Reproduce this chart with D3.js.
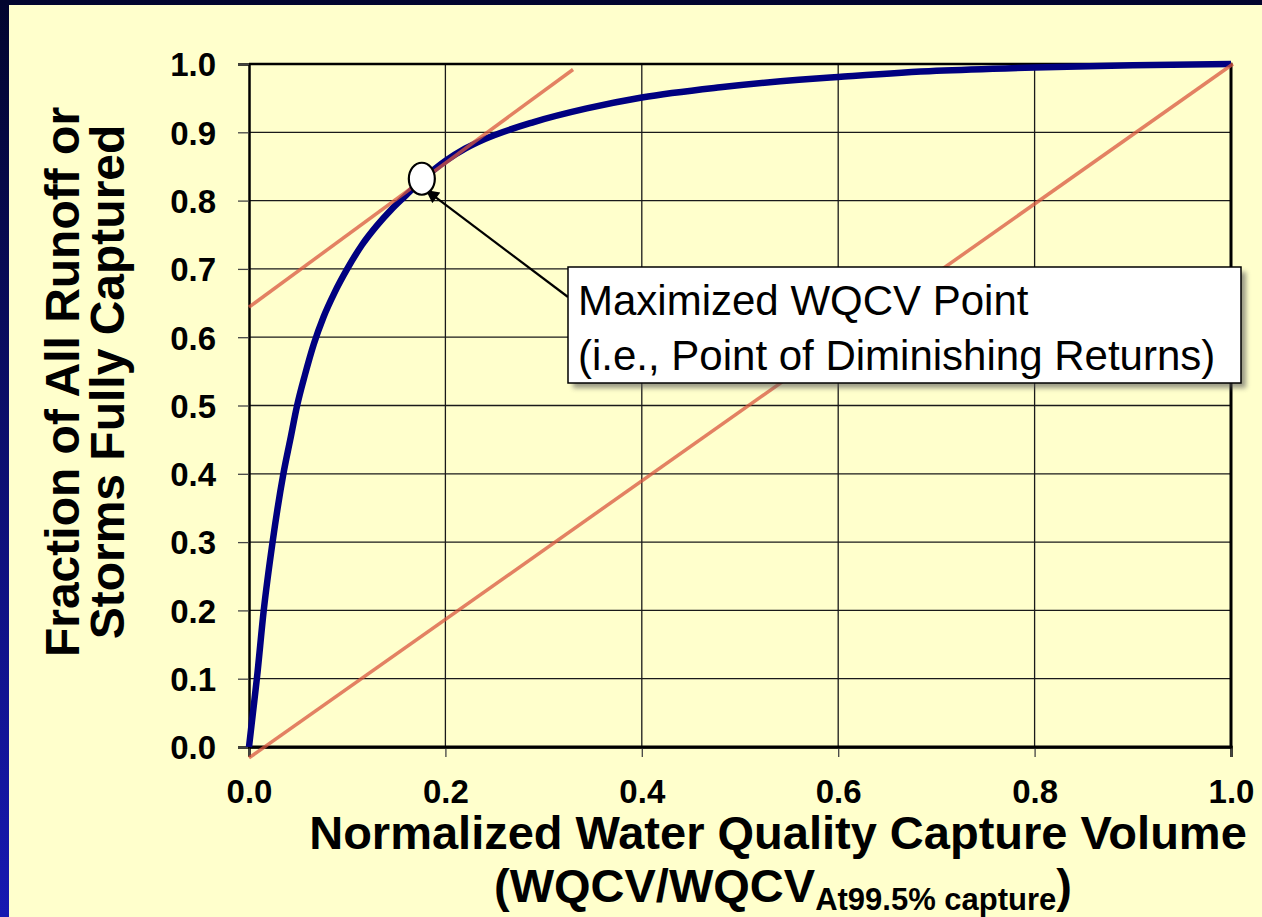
<!DOCTYPE html>
<html>
<head>
<meta charset="utf-8">
<script src="https://cdn.jsdelivr.net/npm/d3@7"></script>
<style>
  body { margin: 0; background: #03063a; }
  svg { display: block; }
  text { font-family: "Liberation Sans", Arial, sans-serif; }
</style>
</head>
<body>
<div id="chart"></div>
<script>
// curva di cattura
const captureX = [0, 0.004, 0.008, 0.015, 0.024, 0.035, 0.042, 0.049, 0.057, 0.066, 0.076, 0.087, 0.1, 0.115, 0.13, 0.145, 0.16, 0.176, 0.2, 0.22, 0.24, 0.29, 0.344, 0.4, 0.48, 0.56, 0.6, 0.7, 0.8, 0.9, 1.0];
const captureY = [0, 0.05, 0.10, 0.20, 0.30, 0.40, 0.45, 0.50, 0.545, 0.59, 0.63, 0.665, 0.70, 0.735, 0.763, 0.787, 0.808, 0.83, 0.858, 0.876, 0.890, 0.915, 0.935, 0.951, 0.966, 0.977, 0.981, 0.990, 0.995, 0.998, 1.0];

// retta tangente e diagonale
const tangentX = [0, 0.33];
const tangentY = [0.644, 0.992];
const diagonalX = [0, 1.002];
const diagonalY = [-0.016, 1.0];

// punto WQCV massimizzato
const pointX = 0.176;
const pointY = 0.832;

const yTicks = [0, 0.1, 0.2, 0.3, 0.4, 0.5, 0.6, 0.7, 0.8, 0.9, 1.0];
const xTicks = [0, 0.2, 0.4, 0.6, 0.8, 1.0];

const noteLines = ["Maximized WQCV Point", "(i.e., Point of Diminishing Returns)"];

const W = 1262, H = 917;
const plotL = 249, plotR = 1231, plotT = 64, plotB = 747;

const svg = d3.select("#chart").append("svg")
    .attr("width", W).attr("height", H);

const defs = svg.append("defs");
const grad = defs.append("linearGradient").attr("id", "slide")
    .attr("x1", 0).attr("y1", 0).attr("x2", 0).attr("y2", 1);
grad.append("stop").attr("offset", "0%").attr("stop-color", "#02052e");
grad.append("stop").attr("offset", "100%").attr("stop-color", "#1719b2");

const blur = defs.append("filter").attr("id", "shadow")
    .attr("x", "-10%").attr("y", "-10%").attr("width", "120%").attr("height", "140%");
blur.append("feGaussianBlur").attr("stdDeviation", 2.5);

defs.append("marker").attr("id", "head")
    .attr("viewBox", "0 0 10 10").attr("refX", 9).attr("refY", 5)
    .attr("markerWidth", 7).attr("markerHeight", 6).attr("markerUnits", "strokeWidth")
    .attr("orient", "auto")
    .append("path").attr("d", "M0,0 L10,5 L0,10 Z").attr("fill", "#000");

// sfondo slide + pannello giallo
svg.append("rect").attr("width", W).attr("height", H).attr("fill", "url(#slide)");
svg.append("rect").attr("x", 9).attr("y", 5).attr("width", W - 9).attr("height", H - 5).attr("fill", "#ffffcc");

const x = d3.scaleLinear().domain([0, 1]).range([plotL, plotR]);
const y = d3.scaleLinear().domain([0, 1]).range([plotB, plotT]);

// griglia
const grid = svg.append("g").attr("stroke", "#1a1a1a").attr("stroke-width", 1.3);
grid.selectAll("line.h").data(yTicks.slice(1, -1)).enter().append("line")
    .attr("x1", plotL).attr("x2", plotR)
    .attr("y1", d => y(d)).attr("y2", d => y(d));
grid.selectAll("line.v").data(xTicks.slice(1, -1)).enter().append("line")
    .attr("y1", plotT).attr("y2", plotB)
    .attr("x1", d => x(d)).attr("x2", d => x(d));

// assi
const yAxis = svg.append("g").attr("transform", `translate(${plotL},0)`)
    .call(d3.axisLeft(y).tickValues(yTicks).tickFormat(d3.format(".1f")).tickSize(11).tickPadding(22));
const xAxis = svg.append("g").attr("transform", `translate(0,${plotB})`)
    .call(d3.axisBottom(x).tickValues(xTicks).tickFormat(d3.format(".1f")).tickSize(10).tickPadding(8));

[yAxis, xAxis].forEach(a => {
    a.select(".domain").attr("stroke", "#000").attr("stroke-width", 2.5);
    a.selectAll(".tick line").attr("stroke", "#444").attr("stroke-width", 1.3);
    a.selectAll(".tick text").attr("fill", "#000")
        .style("font-size", "33px").style("font-weight", "bold")
        .style("font-family", "'Liberation Sans', Arial, sans-serif");
});
yAxis.selectAll(".tick text").attr("dy", "0.36em");
xAxis.selectAll(".tick text").attr("dy", null).attr("y", 56);

// bordi del riquadro
svg.append("line").attr("x1", plotL).attr("x2", plotR + 1.5).attr("y1", plotT).attr("y2", plotT)
    .attr("stroke", "#000").attr("stroke-width", 2.5);
svg.append("line").attr("x1", plotR).attr("x2", plotR).attr("y1", plotT).attr("y2", plotB)
    .attr("stroke", "#000").attr("stroke-width", 3);
svg.append("line").attr("x1", plotL - 1).attr("x2", plotR + 1.5).attr("y1", plotB).attr("y2", plotB)
    .attr("stroke", "#000").attr("stroke-width", 3);

// curva
const line = d3.line().x(d => x(d[0])).y(d => y(d[1])).curve(d3.curveMonotoneX);
svg.append("path")
    .datum(d3.zip(captureX, captureY))
    .attr("d", line)
    .attr("fill", "none").attr("stroke", "#000080").attr("stroke-width", 6.5)
    .attr("stroke-linejoin", "round");

// rette
const straight = d3.line().x(d => x(d[0])).y(d => y(d[1]));
[[tangentX, tangentY], [diagonalX, diagonalY]].forEach(([xs, ys]) => {
    svg.append("path").datum(d3.zip(xs, ys)).attr("d", straight)
        .attr("fill", "none").attr("stroke", "#d9573f").attr("stroke-opacity", 0.75)
        .attr("stroke-width", 3.5);
});

// freccia
const boxX = 568, boxY = 267, boxW = 673, boxH = 116;
svg.append("line")
    .attr("x1", boxX).attr("y1", 297)
    .attr("x2", x(pointX) + 5).attr("y2", y(pointY) + 12)
    .attr("stroke", "#000").attr("stroke-width", 2.2)
    .attr("marker-end", "url(#head)");

// punto
svg.append("ellipse")
    .attr("cx", x(pointX)).attr("cy", y(pointY))
    .attr("rx", 13).attr("ry", 16)
    .attr("fill", "#fff").attr("stroke", "#000").attr("stroke-width", 2.2);

// riquadro annotazione
svg.append("rect").attr("x", boxX + 5).attr("y", boxY + 5).attr("width", boxW).attr("height", boxH)
    .attr("fill", "#555").attr("opacity", 0.6).attr("filter", "url(#shadow)");
svg.append("rect").attr("x", boxX).attr("y", boxY).attr("width", boxW).attr("height", boxH)
    .attr("fill", "#fff").attr("stroke", "#000").attr("stroke-width", 1.5);
svg.selectAll("text.note").data(noteLines).enter().append("text")
    .attr("class", "note")
    .attr("x", boxX + 10).attr("y", (d, i) => boxY + 48 + i * 55)
    .style("font-size", "42px").attr("fill", "#000")
    .text(d => d);

// titoli assi
const yTitle = ["Fraction of All Runoff or", "Storms Fully Captured"];
svg.selectAll("text.ytitle").data(yTitle).enter().append("text")
    .attr("class", "ytitle")
    .attr("transform", (d, i) => `translate(${79 + i * 45},382) rotate(-90)`)
    .attr("text-anchor", "middle")
    .style("font-size", "48px").style("font-weight", "bold").attr("fill", "#000")
    .text(d => d);

svg.append("text")
    .attr("x", 778).attr("y", 849).attr("text-anchor", "middle")
    .style("font-size", "47px").style("font-weight", "bold").attr("fill", "#000")
    .text("Normalized Water Quality Capture Volume");

const sub = svg.append("text")
    .attr("x", 783).attr("y", 902).attr("text-anchor", "middle")
    .style("font-size", "47px").style("font-weight", "bold").attr("fill", "#000");
sub.append("tspan").text("(WQCV/WQCV");
sub.append("tspan").attr("dy", 8).style("font-size", "31px").text("At99.5% capture");
sub.append("tspan").attr("dy", -8).text(")");
</script>
</body>
</html>
